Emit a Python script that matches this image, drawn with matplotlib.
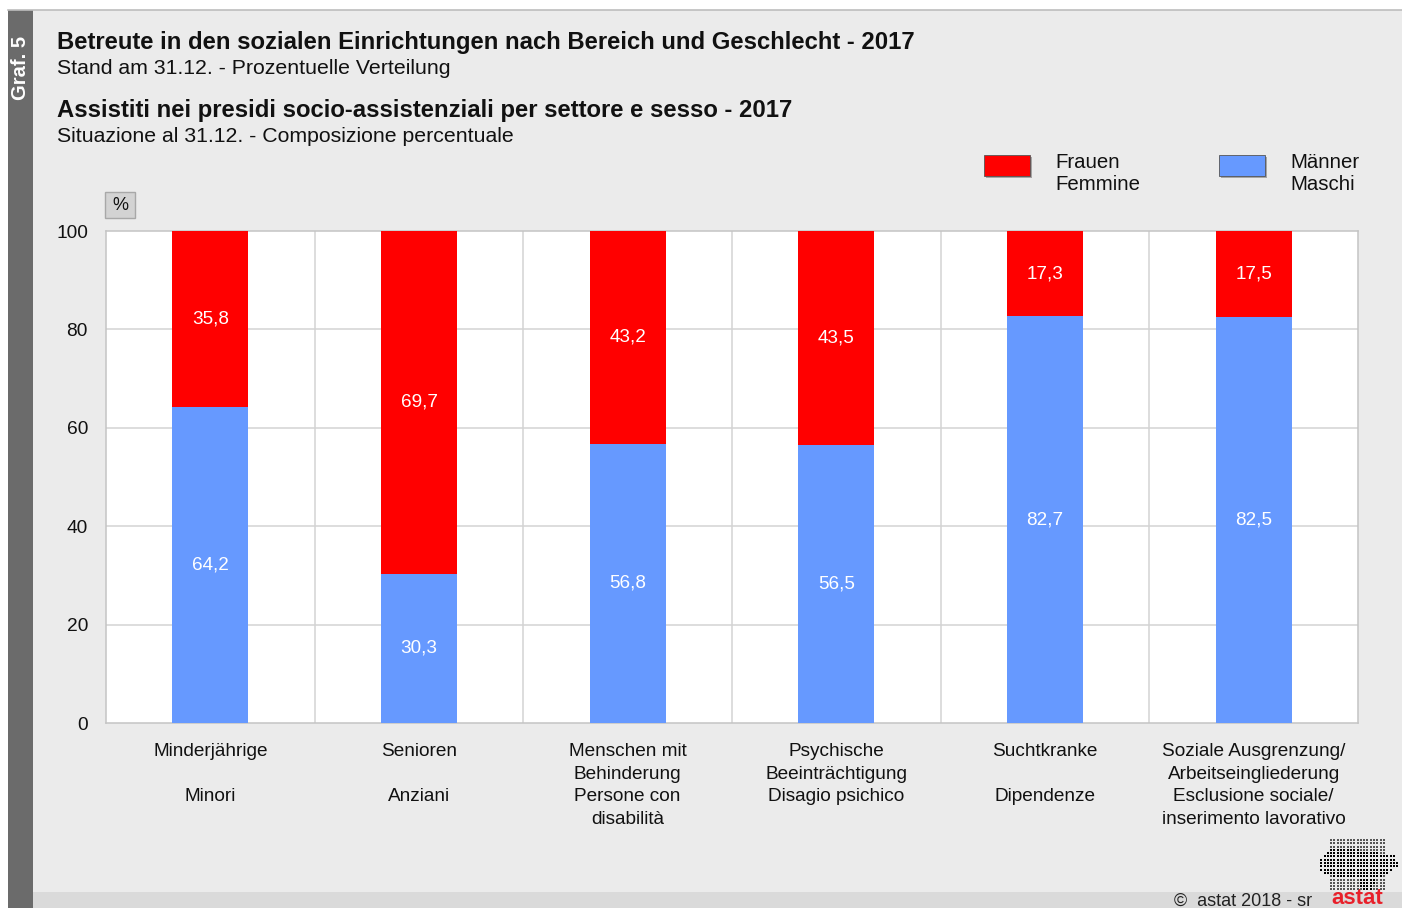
import matplotlib
matplotlib.use("Agg")
import matplotlib.pyplot as plt
from matplotlib.patches import Rectangle
from matplotlib.path import Path
import numpy as np

categories = [
    "Minderjährige\n\nMinori",
    "Senioren\n\nAnziani",
    "Menschen mit\nBehinderung\nPersone con\ndisabilità",
    "Psychische\nBeeinträchtigung\nDisagio psichico",
    "Suchtkranke\n\nDipendenze",
    "Soziale Ausgrenzung/\nArbeitseingliederung\nEsclusione sociale/\ninserimento lavorativo",
]
maenner = [64.2, 30.3, 56.8, 56.5, 82.7, 82.5]
frauen = [35.8, 69.7, 43.2, 43.5, 17.3, 17.5]
yticks = [0, 20, 40, 60, 80, 100]

RED = "#ff0000"
BLUE = "#6699ff"
BG = "#ebebeb"
FONT = "Liberation Sans"
plt.rcParams["font.family"] = [FONT, "DejaVu Sans"]

W, H = 1402, 908
fig = plt.figure(figsize=(W / 100, H / 100), dpi=100)
fig.patch.set_facecolor("white")

def fx(x):
    return x / W

def fy(y):
    return 1 - y / H

# background panels
fig.add_artist(Rectangle((fx(8), 0), fx(W - 8), fy(10), transform=fig.transFigure,
                         facecolor=BG, edgecolor="none", zorder=0))
fig.add_artist(Rectangle((fx(33), 0), fx(W - 33), fy(892), transform=fig.transFigure,
                         facecolor="#dadada", edgecolor="none", zorder=0))
fig.add_artist(Rectangle((fx(8), 0), fx(25), fy(10), transform=fig.transFigure,
                         facecolor="#6b6b6b", edgecolor="none", zorder=0))
fig.add_artist(plt.Line2D([fx(8), 1], [fy(10), fy(10)], transform=fig.transFigure,
                          color="#bdbdbd", lw=1.2, zorder=1))
fig.text(fx(20), fy(68), "Graf. 5", rotation=90, color="white", fontsize=14.5,
         fontweight="bold", ha="center", va="center")

# titles
fig.text(fx(57), fy(42), "Betreute in den sozialen Einrichtungen nach Bereich und Geschlecht - 2017",
         fontsize=17.2, fontweight="bold", va="center", ha="left", color="#111111")
fig.text(fx(57), fy(68), "Stand am 31.12. - Prozentuelle Verteilung",
         fontsize=15.3, va="center", ha="left", color="#111111")
fig.text(fx(57), fy(110), "Assistiti nei presidi socio-assistenziali per settore e sesso - 2017",
         fontsize=17.2, fontweight="bold", va="center", ha="left", color="#111111")
fig.text(fx(57), fy(136), "Situazione al 31.12. - Composizione percentuale",
         fontsize=15.3, va="center", ha="left", color="#111111")

# axes
ax = fig.add_axes([fx(106), fy(723), fx(1358 - 106), fy(231) - fy(723)])
ax.set_facecolor("white")
n = len(categories)
x = np.arange(n)
bw = 0.365
ax.bar(x, maenner, width=bw, color=BLUE, zorder=3)
ax.bar(x, frauen, width=bw, bottom=maenner, color=RED, zorder=3)

for i in range(n):
    ax.text(x[i], maenner[i] / 2, f"{maenner[i]:.1f}".replace(".", ","), color="white",
            ha="center", va="center", fontsize=13.6, zorder=4)
    ax.text(x[i], maenner[i] + frauen[i] / 2, f"{frauen[i]:.1f}".replace(".", ","), color="white",
            ha="center", va="center", fontsize=13.6, zorder=4)

ax.set_xlim(-0.5, n - 0.5)
ax.set_ylim(0, 100)
ax.set_yticks(yticks)
ax.set_yticklabels([str(t) for t in yticks], fontsize=13.8, color="#111111")
ax.set_xticks(x)
ax.set_xticklabels(categories, fontsize=13.7, color="#111111", linespacing=1.42)
ax.tick_params(length=0)
ax.tick_params(axis="y", pad=17)
ax.tick_params(axis="y", pad=13)
ax.tick_params(axis="x", pad=14.5)
for xv in np.arange(0.5, n - 0.5, 1):
    ax.axvline(xv, color="#d3d3d3", lw=1.1, zorder=1)
for yv in yticks[1:-1]:
    ax.axhline(yv, color="#d3d3d3", lw=1.1, zorder=1)
for s in ax.spines.values():
    s.set_color("#c4c4c4")
    s.set_linewidth(1.1)

# % box
fig.add_artist(Rectangle((fx(105), fy(218)), fx(30), fy(192) - fy(218), transform=fig.transFigure,
                         facecolor="#d3d3d3", edgecolor="#a8a8a8", lw=1))
fig.text(fx(120), fy(205), "%", fontsize=13, ha="center", va="center", color="#111111")

# legend
for (x0, col, l1, l2) in [(984, RED, "Frauen", "Femmine"), (1219, BLUE, "Männer", "Maschi")]:
    fig.add_artist(Rectangle((fx(x0 + 2), fy(178)), fx(46), fy(155) - fy(176), transform=fig.transFigure,
                             facecolor="#777777", edgecolor="none", alpha=0.6))
    fig.add_artist(Rectangle((fx(x0), fy(176)), fx(46), fy(155) - fy(176), transform=fig.transFigure,
                             facecolor=col, edgecolor="#555555", lw=0.6))
    fig.text(fx(x0 + 71), fy(162), l1, fontsize=14.7, va="center", ha="left", color="#111111")
    fig.text(fx(x0 + 71), fy(184), l2, fontsize=14.7, va="center", ha="left", color="#111111")

# footer
fig.text(fx(1312), fy(901), "©  astat 2018 - sr", fontsize=13, ha="right", va="center", color="#222222")
fig.text(fx(1357), fy(899), "astat", fontsize=16, fontweight="bold", ha="center", va="center", color="#e8202a")

# dotted logo blob
shape = Path([(1318, 862), (1330, 850), (1350, 848), (1372, 852), (1396, 856), (1398, 866),
              (1388, 874), (1376, 878), (1372, 890), (1362, 890), (1358, 878), (1330, 876),
              (1320, 872), (1318, 862)])
gx, gy = np.meshgrid(np.arange(1318, 1400, 3.3), np.arange(840, 892, 3.3))
pts = np.column_stack([gx.ravel(), gy.ravel()])
inside = shape.contains_points(pts)
lax = fig.add_axes([0, 0, 1, 1], zorder=5)
lax.set_xlim(0, W)
lax.set_ylim(H, 0)
lax.axis("off")
lax.scatter(pts[inside, 0], pts[inside, 1], s=4.5, c="black", marker="s", linewidths=0)
outer = ~inside & (pts[:, 0] > 1330) & (pts[:, 0] < 1385)
lax.scatter(pts[outer, 0], pts[outer, 1], s=0.8, c="#555555", marker="s", linewidths=0)

fig.savefig("out.png", dpi=100, facecolor=fig.get_facecolor())
